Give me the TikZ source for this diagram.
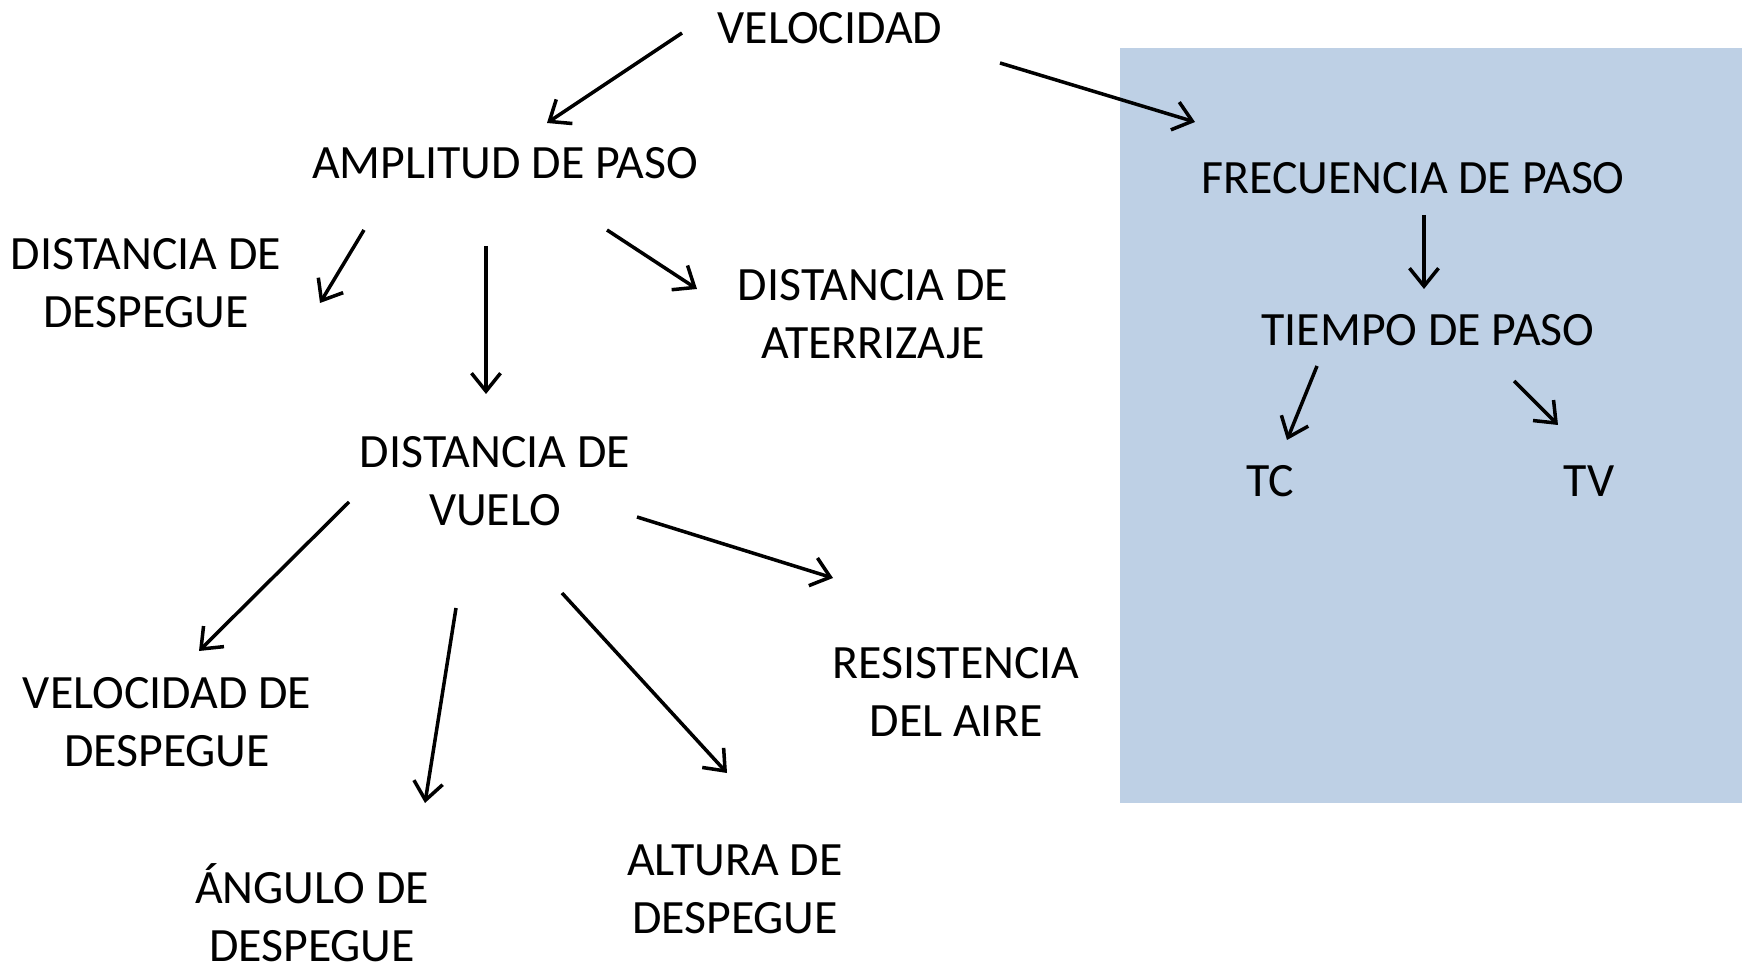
\documentclass[tikz,border=0pt]{standalone}
\usepackage{fontspec}
\setmainfont{Carlito}
\usetikzlibrary{arrows.meta}
\definecolor{fondo}{RGB}{190,208,229}
\begin{document}
\begin{tikzpicture}[x=0.01cm, y=-0.01cm,
  lbl/.style={align=center, inner sep=0pt, font=\fontsize{13.6}{16.4}\selectfont},
  arr/.style={line width=1pt, -{Straight Barb[length=1.8mm,width=2.9mm,line width=1pt]}}]
\useasboundingbox (0,0) rectangle (1742,964);
\fill[fondo] (1120,48) rectangle (1742,803);
\node[lbl] (vel) at (830,28){VELOCIDAD};
\node[lbl] (amp) at (505,163){AMPLITUD DE PASO};
\node[lbl] (ddesp) at (146,283){DISTANCIA DE\\DESPEGUE};
\node[lbl] (dater) at (873,314){DISTANCIA DE\\ATERRIZAJE};
\node[lbl] (dvuelo) at (495,481){DISTANCIA DE\\VUELO};
\node[lbl] (vdesp) at (167,722){VELOCIDAD DE\\DESPEGUE};
\node[lbl] (ang) at (312,913){ÁNGULO DE\\DESPEGUE};
\node[lbl] (alt) at (735,889){ALTURA DE\\DESPEGUE};
\node[lbl] (res) at (956,692){RESISTENCIA\\DEL AIRE};
\node[lbl] (frec) at (1413,178){FRECUENCIA DE PASO};
\node[lbl] (tiempo) at (1428,330){TIEMPO DE PASO};
\node[lbl] (tc) at (1270,481){TC};
\node[lbl] (tv) at (1589,481){TV};
\draw[arr] ([shift={(-148,5)}]vel.center) -- ([shift={(42,-40)}]amp.center);
\draw[arr] ([shift={(170,35)}]vel.center) -- ([shift={(-218,-56)}]frec.center);
\draw[arr] ([shift={(-141,67)}]amp.center) -- ([shift={(174,20)}]ddesp.center);
\draw[arr] ([shift={(-19,83)}]amp.center) -- ([shift={(-9,-87)}]dvuelo.center);
\draw[arr] ([shift={(102,67)}]amp.center) -- ([shift={(-176,-25)}]dater.center);
\draw[arr] ([shift={(-146,21)}]dvuelo.center) -- ([shift={(32,-71)}]vdesp.center);
\draw[arr] ([shift={(-39,127)}]dvuelo.center) -- ([shift={(113,-110)}]ang.center);
\draw[arr] ([shift={(67,112)}]dvuelo.center) -- ([shift={(-8,-116)}]alt.center);
\draw[arr] ([shift={(142,36)}]dvuelo.center) -- ([shift={(-123,-114)}]res.center);
\draw[arr] ([shift={(11,37)}]frec.center) -- ([shift={(-4,-41)}]tiempo.center);
\draw[arr] ([shift={(-111,36)}]tiempo.center) -- ([shift={(17,-41)}]tc.center);
\draw[arr] ([shift={(86,51)}]tiempo.center) -- ([shift={(-31,-56)}]tv.center);
\end{tikzpicture}
\end{document}
